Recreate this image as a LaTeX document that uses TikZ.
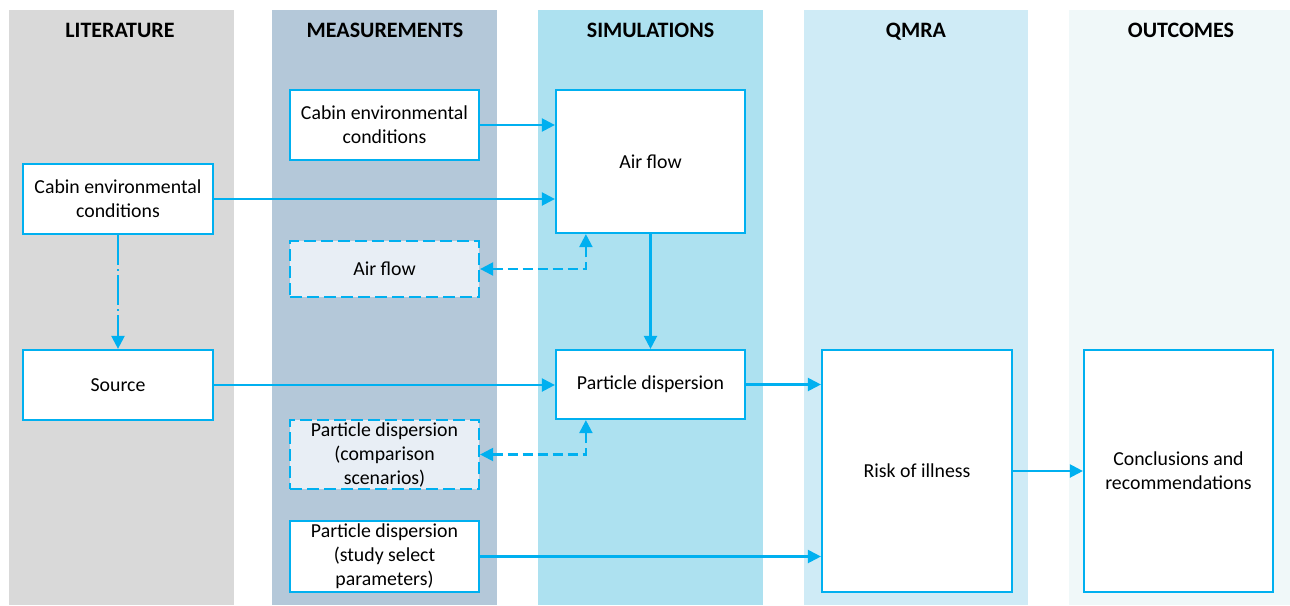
\documentclass[tikz,border=0pt]{standalone}
\usepackage{fontspec}
\setmainfont{Carlito}
\usetikzlibrary{arrows.meta,calc}
\definecolor{lineblue}{RGB}{0,176,240}
\definecolor{colLit}{RGB}{217,217,217}
\definecolor{colMeas}{RGB}{180,200,217}
\definecolor{colSim}{RGB}{173,225,240}
\definecolor{colQmra}{RGB}{207,235,246}
\definecolor{colOut}{RGB}{240,248,249}
\definecolor{dashfill}{RGB}{232,238,245}
\begin{document}
\begin{tikzpicture}[x=0.5pt,y=-0.5pt,
  header/.style={font=\fontsize{11}{13}\selectfont\bfseries,anchor=base},
  box/.style={draw=lineblue,line width=1.1pt,fill=white,align=center,inner sep=0pt,
    font=\fontsize{9.9}{12}\selectfont},
  dbox/.style={box,fill=dashfill,dash pattern=on 6pt off 2.5pt},
  conn/.style={draw=lineblue,line width=1.1pt,-{Triangle[length=6.5pt,width=6.5pt]}},
  dconn/.style={draw=lineblue,line width=1.1pt,dash pattern=on 5pt off 2.5pt,
    {Triangle[length=6.5pt,width=6.5pt]}-{Triangle[length=6.5pt,width=6.5pt]}},
  ddconn/.style={conn,dash pattern=on 15pt off 2pt on 1pt off 2pt}]
\useasboundingbox (0,0) rectangle (1290,605);
% columns
\fill[colLit] (9,10) rectangle (234,605);
\fill[colMeas] (272,10) rectangle (497,605);
\fill[colSim] (538,10) rectangle (763,605);
\fill[colQmra] (804,10) rectangle (1028,605);
\fill[colOut] (1069,10) rectangle (1290,605);
% headers
\node[header] (hL) at (120,38) {LITERATURE};
\node[header] (hM) at (385,38) {MEASUREMENTS};
\node[header] (hS) at (650.5,38) {SIMULATIONS};
\node[header] (hQ) at (916,38) {QMRA};
\node[header] (hO) at (1181,38) {OUTCOMES};
% boxes
\node[box,minimum width=94.5pt,minimum height=35pt] (M1) at (384.5,125) {Cabin environmental\\conditions};
\node[box,minimum width=94.5pt,minimum height=71.5pt] (S1) at (650.5,161.5) {Air flow};
\node[box,minimum width=95pt,minimum height=35pt] (L1) at (118,199) {Cabin environmental\\conditions};
\node[dbox,minimum width=94.5pt,minimum height=28pt] (M2) at (384.5,269) {Air flow};
\node[box,minimum width=95pt,minimum height=35pt] (L2) at (118,385) {Source};
\node[box,minimum width=94.5pt,minimum height=34.5pt] (S2) at (650.5,384.5) {Particle dispersion};
\node[dbox,minimum width=94.5pt,minimum height=34.5pt] (M3) at (384.5,454.5) {Particle dispersion\\(comparison\\scenarios)};
\node[box,minimum width=94.5pt,minimum height=35.5pt] (M4) at (384.5,556.5) {Particle dispersion\\(study select\\parameters)};
\node[box,minimum width=95pt,minimum height=121pt] (Q) at (917,471) {Risk of illness};
\node[box,minimum width=94.5pt,minimum height=121pt] (O) at (1178.5,471) {Conclusions and\\recommendations};
% connectors
\draw[conn] (M1.east) -- (M1.east -| S1.west);
\draw[conn] (L1.east) -- (L1.east -| S1.west);
\draw[ddconn] (L1.south) -- (L2.north);
\draw[conn] (S1.south) -- (S2.north);
\draw[dconn] (M2.east) -| ($(S1.south west)+(31,0)$);
\draw[dconn] (M3.east) -| ($(S2.south west)+(31,0)$);
\draw[conn] (L2.east) -- (L2.east -| S2.west);
\draw[conn] (S2.east) -- (S2.east -| Q.west);
\draw[conn] (M4.east) -- (M4.east -| Q.west);
\draw[conn] (Q.east) -- (Q.east -| O.west);
\end{tikzpicture}
\end{document}
